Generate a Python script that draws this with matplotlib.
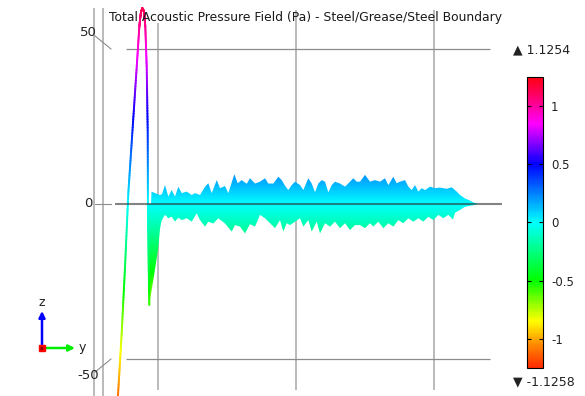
import numpy as np
import matplotlib
matplotlib.use('Agg')
import matplotlib.pyplot as plt
from matplotlib.colors import LinearSegmentedColormap, Normalize
from matplotlib.collections import LineCollection
from matplotlib.patches import Polygon
import matplotlib.cm as cm

plt.rcParams['font.family'] = 'DejaVu Sans'
plt.rcParams['axes.unicode_minus'] = False

# --- data (position along boundary, height) ---
pulse_t = [-29.49, -28.99, -26.30, -23.91, -21.52, -18.62, -15.43, -13.55, -12.9, -12.32,
           -11.38, -10.29, -9.71, -9.20, -8.19, -7.46, -7.32, -7.10, -6.74, -6.30]
pulse_h = [-63.3, -61.6, -41.6, -20.3, 3.5, 22.9, 44.2, 57.1, 60.0, 61.9,
           63.2, 62.3, 60.0, 57.1, 44.2, 22.9, 0.0, -8.4, -20.3, -32.6]

upper_t = [-5.07, -4.71, -2.17, 1.45, 2.90, 5.07, 7.46, 9.93, 12.32, 14.71, 17.17, 20.80,
           24.42, 26.81, 30.43, 34.06, 36.45, 38.91, 42.54, 44.93, 48.55, 50.94, 55.29,
           57.75, 60.65, 64.28, 66.67, 70.29, 73.91, 77.54, 79.93, 83.55, 87.17, 89.64,
           92.03, 94.42, 96.88, 99.28, 102.90, 105.29, 108.91, 111.38, 113.77, 116.16,
           118.62, 121.01, 123.41, 125.87, 128.26, 131.88, 135.51, 139.13, 141.52, 143.99,
           146.38, 150.0, 153.62, 157.25, 160.87, 164.49, 166.88, 170.51, 172.97, 175.36,
           178.99, 181.38, 183.84, 186.23, 188.62, 191.09, 193.48, 197.10, 200.72, 204.35,
           209.20, 212.83, 216.45, 218.84, 222.46, 226.09, 228.48, 231.88]
upper_h = [0.0, 4.0, 3.5, 2.9, 3.2, 6.1, 2.4, 4.5, 2.4, 5.6, 3.5, 4.0,
           2.9, 3.5, 2.9, 5.6, 6.7, 3.5, 7.7, 5.1, 5.8, 3.5, 9.6,
           6.7, 7.7, 6.5, 8.3, 6.6, 7.2, 8.3, 6.6, 6.6, 8.8, 7.7,
           5.9, 4.5, 6.1, 7.2, 6.1, 4.5, 8.3, 6.6, 3.8, 6.6,
           7.7, 7.2, 3.8, 6.1, 7.2, 6.6, 5.6, 7.2, 8.3, 7.2,
           7.2, 9.4, 7.2, 7.7, 7.2, 8.3, 6.1, 8.8, 6.7, 7.2,
           7.7, 5.6, 4.5, 6.1, 4.0, 5.1, 4.5, 5.6, 5.1, 5.3,
           4.9, 5.4, 4.0, 2.9, 1.8, 1.1, 0.5, 0.0]

lower_t = [-7.32, -7.10, -6.74, -6.30, -5.07, -3.41, -1.45, 0.22, 1.45, 2.54, 4.35, 5.07, 7.46,
           9.93, 12.32, 14.71, 17.17, 20.80, 24.42, 28.04, 30.43, 34.06, 36.45, 40.07,
           43.70, 48.55, 53.41, 55.80, 59.42, 63.04, 66.67, 70.29, 73.91, 77.54, 81.16,
           84.78, 88.41, 90.80, 93.26, 95.65, 99.28, 102.90, 105.29, 108.91, 111.38, 115.0,
           117.39, 121.01, 124.64, 128.26, 131.88, 135.51, 139.13, 142.75, 146.38, 150.0,
           153.62, 156.01, 159.64, 163.26, 166.88, 170.51, 174.13, 177.75, 181.38, 185.0,
           188.62, 192.25, 195.87, 199.49, 203.12, 206.74, 210.36, 213.77, 215.22, 218.84,
           222.46, 226.09, 231.88]
lower_h = [0.0, -8.4, -20.3, -32.6, -29.0, -24.5, -19.0, -13.9, -8.0, -5.5, -4.0, -3.5, -4.6,
           -4.1, -5.7, -4.4, -5.2, -4.6, -5.7, -3.0, -5.2, -7.3, -5.7, -6.3,
           -4.6, -6.3, -8.9, -6.8, -7.3, -9.5, -6.5, -7.3, -3.5, -4.6, -6.2,
           -7.8, -5.2, -8.9, -6.2, -6.8, -5.7, -4.6, -7.3, -5.2, -8.9, -5.7,
           -9.5, -6.2, -7.3, -5.7, -7.8, -6.2, -8.4, -6.8, -6.8, -7.8,
           -6.2, -7.3, -5.7, -7.8, -6.2, -7.3, -5.2, -6.2, -4.6, -5.7,
           -4.6, -5.7, -4.1, -5.2, -3.5, -4.6, -3.5, -5.0, -2.8, -1.9,
           -0.9, -0.6, 0.0]

pulse_scale = 56.2           # height units per unit of the colour expression (pulse)
band_scale = 45.0            # same for the filled band
p_max, p_min = 1.1254, -1.1258
cbar_ticks = [-1, -0.5, 0, 0.5, 1]
z_ticks = [50, 0, -50]
grid_t = [0, 100, 200]
title = 'Total Acoustic Pressure Field (Pa) - Steel/Grease/Steel Boundary'

# COMSOL-like rainbow
rainbow = LinearSegmentedColormap.from_list('comsol_rainbow', [
    (0.00, '#ff2a00'), (0.08, '#ff8c00'), (0.16, '#ffff00'), (0.30, '#00ff00'),
    (0.50, '#00ffff'), (0.70, '#0000ff'), (0.84, '#ff00ff'), (0.92, '#ff0080'),
    (1.00, '#ff0010')])
norm = Normalize(-1.25, 1.25)

fig = plt.figure(figsize=(5.85, 3.96), dpi=100)
ax = fig.add_axes([0, 0, 1, 1])
xlim = (-114.5, 309.4)
ylim = (-61.94, 65.81)

# box / grid lines
ax.vlines([-46.4, -39.6], -62, 63.2, color='#b4b4b4', lw=1.3, zorder=1)
ax.vlines(grid_t[0], -60, 58.4, color='#b4b4b4', lw=1.3, zorder=1)
ax.vlines(grid_t[1:], -60, 62.6, color='#b4b4b4', lw=1.3, zorder=1)
ax.hlines([z_ticks[0], z_ticks[2]], -23.2, 240.6, color='#8c8c8c', lw=0.9, zorder=1)

for v in z_ticks:
    ax.plot([-34.1, -45.7], [v, v * 1.085], color='#8c8c8c', lw=0.8, zorder=1)
    ax.text(-50.4, v * 1.105, f'{v:g}', fontsize=9.5, ha='center', va='center', color='#222222')

# filled band with height gradient
poly_xy = np.column_stack([lower_t + upper_t[::-1], lower_h + upper_h[::-1]])
band = Polygon(poly_xy, closed=True, facecolor='none', edgecolor='none')
ax.add_patch(band)
grad = np.linspace(ylim[0], ylim[1], 500)[:, None] / band_scale
im = ax.imshow(grad, extent=[xlim[0], xlim[1], ylim[0], ylim[1]], origin='lower',
               cmap=rainbow, norm=norm, aspect='auto', zorder=3, interpolation='bilinear')
im.set_clip_path(band)

# pulse line, coloured by height (each segment split for a smooth gradient)
segs, vals = [], []
for i in range(len(pulse_t) - 1):
    s = np.linspace(0, 1, 25)
    xs = pulse_t[i] + s * (pulse_t[i + 1] - pulse_t[i])
    ys = pulse_h[i] + s * (pulse_h[i + 1] - pulse_h[i])
    for j in range(len(s) - 1):
        segs.append([(xs[j], ys[j]), (xs[j + 1], ys[j + 1])])
        vals.append((ys[j] + ys[j + 1]) / 2 / pulse_scale)
lc = LineCollection(segs, cmap=rainbow, norm=norm, linewidths=1.4, zorder=4)
lc.set_array(np.array(vals))
lc.set_capstyle('round')
ax.add_collection(lc)

# zero line
ax.hlines(0, -31.2, 249.3, color='#303030', lw=1.5, alpha=0.6, zorder=5)

ax.set_xlim(*xlim)
ax.set_ylim(*ylim)
ax.axis('off')

fig.text(109 / 585, 1 - 18 / 396, title, fontsize=8.9, ha='left', va='center', color='#1a1a1a')

# colour legend
cax = fig.add_axes([526.7 / 585, 28 / 396, 16 / 585, 291.3 / 396])
sm = cm.ScalarMappable(norm=norm, cmap=rainbow)
cb = fig.colorbar(sm, cax=cax, ticks=cbar_ticks)
cb.ax.set_yticklabels([f'{t:g}' for t in cbar_ticks])
cax.tick_params(direction='in', length=3, width=0.8, left=True, right=True,
                labelsize=8.5, pad=6, labelcolor='#222222')
cb.outline.set_linewidth(0.8)

fig.text(513 / 585, 1 - 50 / 396, f'\u25b2 {p_max}', fontsize=9, va='center', color='#222222')
fig.text(513 / 585, 1 - 382 / 396, f'\u25bc {p_min}', fontsize=9, va='center', color='#222222')

# axis triad
axt = fig.add_axes([30 / 585, 36 / 396, 65 / 585, 65 / 396])
axt.set_xlim(-12, 53)
axt.set_ylim(-12, 53)
axt.axis('off')
axt.annotate('', xy=(0, 37), xytext=(0, 0),
             arrowprops=dict(arrowstyle='-|>', color='#0000ff', lw=1.8, mutation_scale=9,
                             shrinkA=0, shrinkB=0))
axt.annotate('', xy=(33, 0), xytext=(0, 0),
             arrowprops=dict(arrowstyle='-|>', color='#00ee00', lw=1.8, mutation_scale=9,
                             shrinkA=0, shrinkB=0))
axt.plot(0, 0, 's', color='#ff0000', ms=5, zorder=5)
axt.text(0, 0, 'x', fontsize=4.5, ha='center', va='center', zorder=6)
axt.text(0, 45, 'z', fontsize=9, ha='center', va='center', color='#222222')
axt.text(40, 1, 'y', fontsize=9, ha='center', va='center', color='#222222')

fig.savefig('out.png', dpi=100)
